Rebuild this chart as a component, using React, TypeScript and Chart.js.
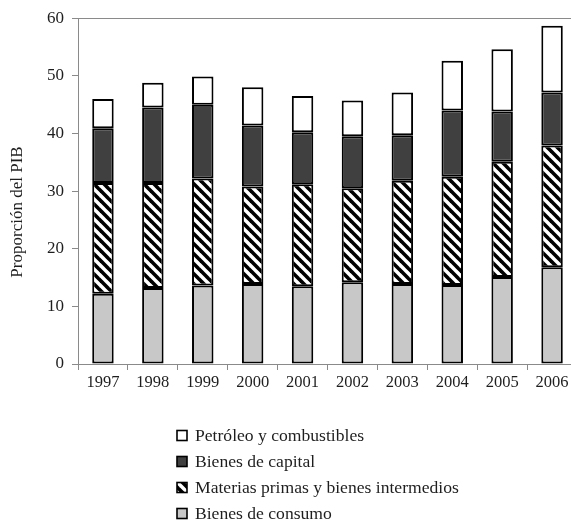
import React, { useEffect, useRef } from "react";
import { Chart, registerables } from "chart.js";

Chart.register(...registerables);

const years = ["1997", "1998", "1999", "2000", "2001", "2002", "2003", "2004", "2005", "2006"];
const consumo = [12.2, 13.2, 13.6, 13.9, 13.5, 14.2, 13.9, 13.7, 15.1, 16.8];
const materias = [19.2, 18.2, 18.6, 16.9, 17.7, 16.3, 17.9, 18.8, 20.0, 21.1];
const capital = [9.5, 13.1, 12.8, 10.6, 9.0, 9.0, 7.9, 11.5, 8.7, 9.2];
const petroleo = [5.1, 4.3, 4.9, 6.6, 6.3, 6.2, 7.4, 8.6, 10.8, 11.6];
const seriesNames = [
  "Bienes de consumo",
  "Materias primas y bienes intermedios",
  "Bienes de capital",
  "Petróleo y combustibles",
];
const yTicks = [0, 10, 20, 30, 40, 50, 60];
const yTitle = "Proporción del PIB";

const FONT = '"Liberation Serif", "Times New Roman", serif';
const TEXT = "#1e1e1e";
const AXIS = "#8a8a8a";

function makeHatch(): CanvasPattern | string {
  const c = document.createElement("canvas");
  const s = 10;
  c.width = s;
  c.height = s;
  const g = c.getContext("2d");
  if (!g) return "#888";
  g.fillStyle = "#ffffff";
  g.fillRect(0, 0, s, s);
  g.strokeStyle = "#000000";
  g.lineWidth = 3.6;
  g.lineCap = "square";
  for (const off of [-s, 0, s]) {
    g.beginPath();
    g.moveTo(off, 0);
    g.lineTo(off + s, s);
    g.stroke();
  }
  const p = g.createPattern(c, "repeat");
  return p || "#888";
}

export default function App() {
  const ref = useRef<HTMLCanvasElement | null>(null);

  useEffect(() => {
    if (!ref.current) return;
    const hatch = makeHatch();
    const fills = ["#c8c8c8", hatch, "#404040", "#ffffff"];
    const values = [consumo, materias, capital, petroleo];

    const extrasPlugin = {
      id: "extras",
      afterDraw(chart: any) {
        const ctx = chart.ctx as CanvasRenderingContext2D;
        const ds = chart.data.datasets;
        ctx.save();
        // y-axis title
        ctx.save();
        ctx.translate(17.5, 212);
        ctx.rotate(-Math.PI / 2);
        ctx.font = `17px ${FONT}`;
        ctx.fillStyle = TEXT;
        ctx.textAlign = "center";
        ctx.textBaseline = "middle";
        ctx.fillText(yTitle, 0, 0);
        ctx.restore();
        // legend
        ctx.font = `17.6px ${FONT}`;
        ctx.textBaseline = "middle";
        ctx.textAlign = "left";
        const order = [3, 2, 1, 0];
        order.forEach((di, i) => {
          const cy = 435.5 + i * 26;
          const x = 177;
          const sz = 10;
          ctx.fillStyle = ds[di].backgroundColor;
          ctx.fillRect(x, cy - sz / 2, sz, sz);
          ctx.strokeStyle = "#000";
          ctx.lineWidth = 1.6;
          ctx.strokeRect(x, cy - sz / 2, sz, sz);
          ctx.fillStyle = TEXT;
          ctx.fillText(ds[di].label, 195, cy + 1);
        });
        ctx.restore();
      },
    };

    const chart = new Chart(ref.current, {
      type: "bar",
      data: {
        labels: years,
        datasets: values.map((v, i) => ({
          label: seriesNames[i],
          data: v,
          backgroundColor: fills[i] as any,
          borderColor: "#000000",
          borderWidth: 2,
          borderSkipped: false,
          categoryPercentage: 1,
          barPercentage: 0.43,
        })),
      },
      options: {
        responsive: false,
        animation: false,
        layout: { padding: { left: 0, right: 0, top: 16, bottom: 117 } },
        plugins: {
          legend: { display: false },
          tooltip: { enabled: false },
        },
        scales: {
          x: {
            stacked: true,
            offset: true,
            border: { color: AXIS, width: 1 },
            grid: {
              offset: true,
              drawOnChartArea: false,
              drawTicks: true,
              tickLength: 6,
              tickColor: AXIS,
            },
            ticks: {
              color: TEXT,
              font: { family: FONT, size: 16.5 },
              padding: 3,
              maxRotation: 0,
              autoSkip: false,
            },
            afterFit: (s: any) => {
              s.height = 40;
            },
          },
          y: {
            stacked: true,
            min: 0,
            max: 60,
            afterBuildTicks: (s: any) => {
              s.ticks = yTicks.map((v) => ({ value: v }));
            },
            border: { color: AXIS, width: 1 },
            grid: {
              color: (c: any) => (c.tick && c.tick.value === 60 ? AXIS : "rgba(0,0,0,0)"),
              tickColor: AXIS,
              tickLength: 6,
              drawTicks: true,
            },
            ticks: {
              color: TEXT,
              font: { family: FONT, size: 17 },
              padding: 8,
            },
            afterFit: (s: any) => {
              s.width = 78;
            },
          },
        },
      },
      plugins: [extrasPlugin],
    });
    return () => chart.destroy();
  }, []);

  return (
    <div
      style={{
        position: "fixed",
        left: 0,
        top: 0,
        width: 571,
        height: 521,
        overflow: "hidden",
        background: "#fff",
      }}
    >
      <canvas ref={ref} width={577} height={521} style={{ width: 577, height: 521, display: "block" }} />
    </div>
  );
}
